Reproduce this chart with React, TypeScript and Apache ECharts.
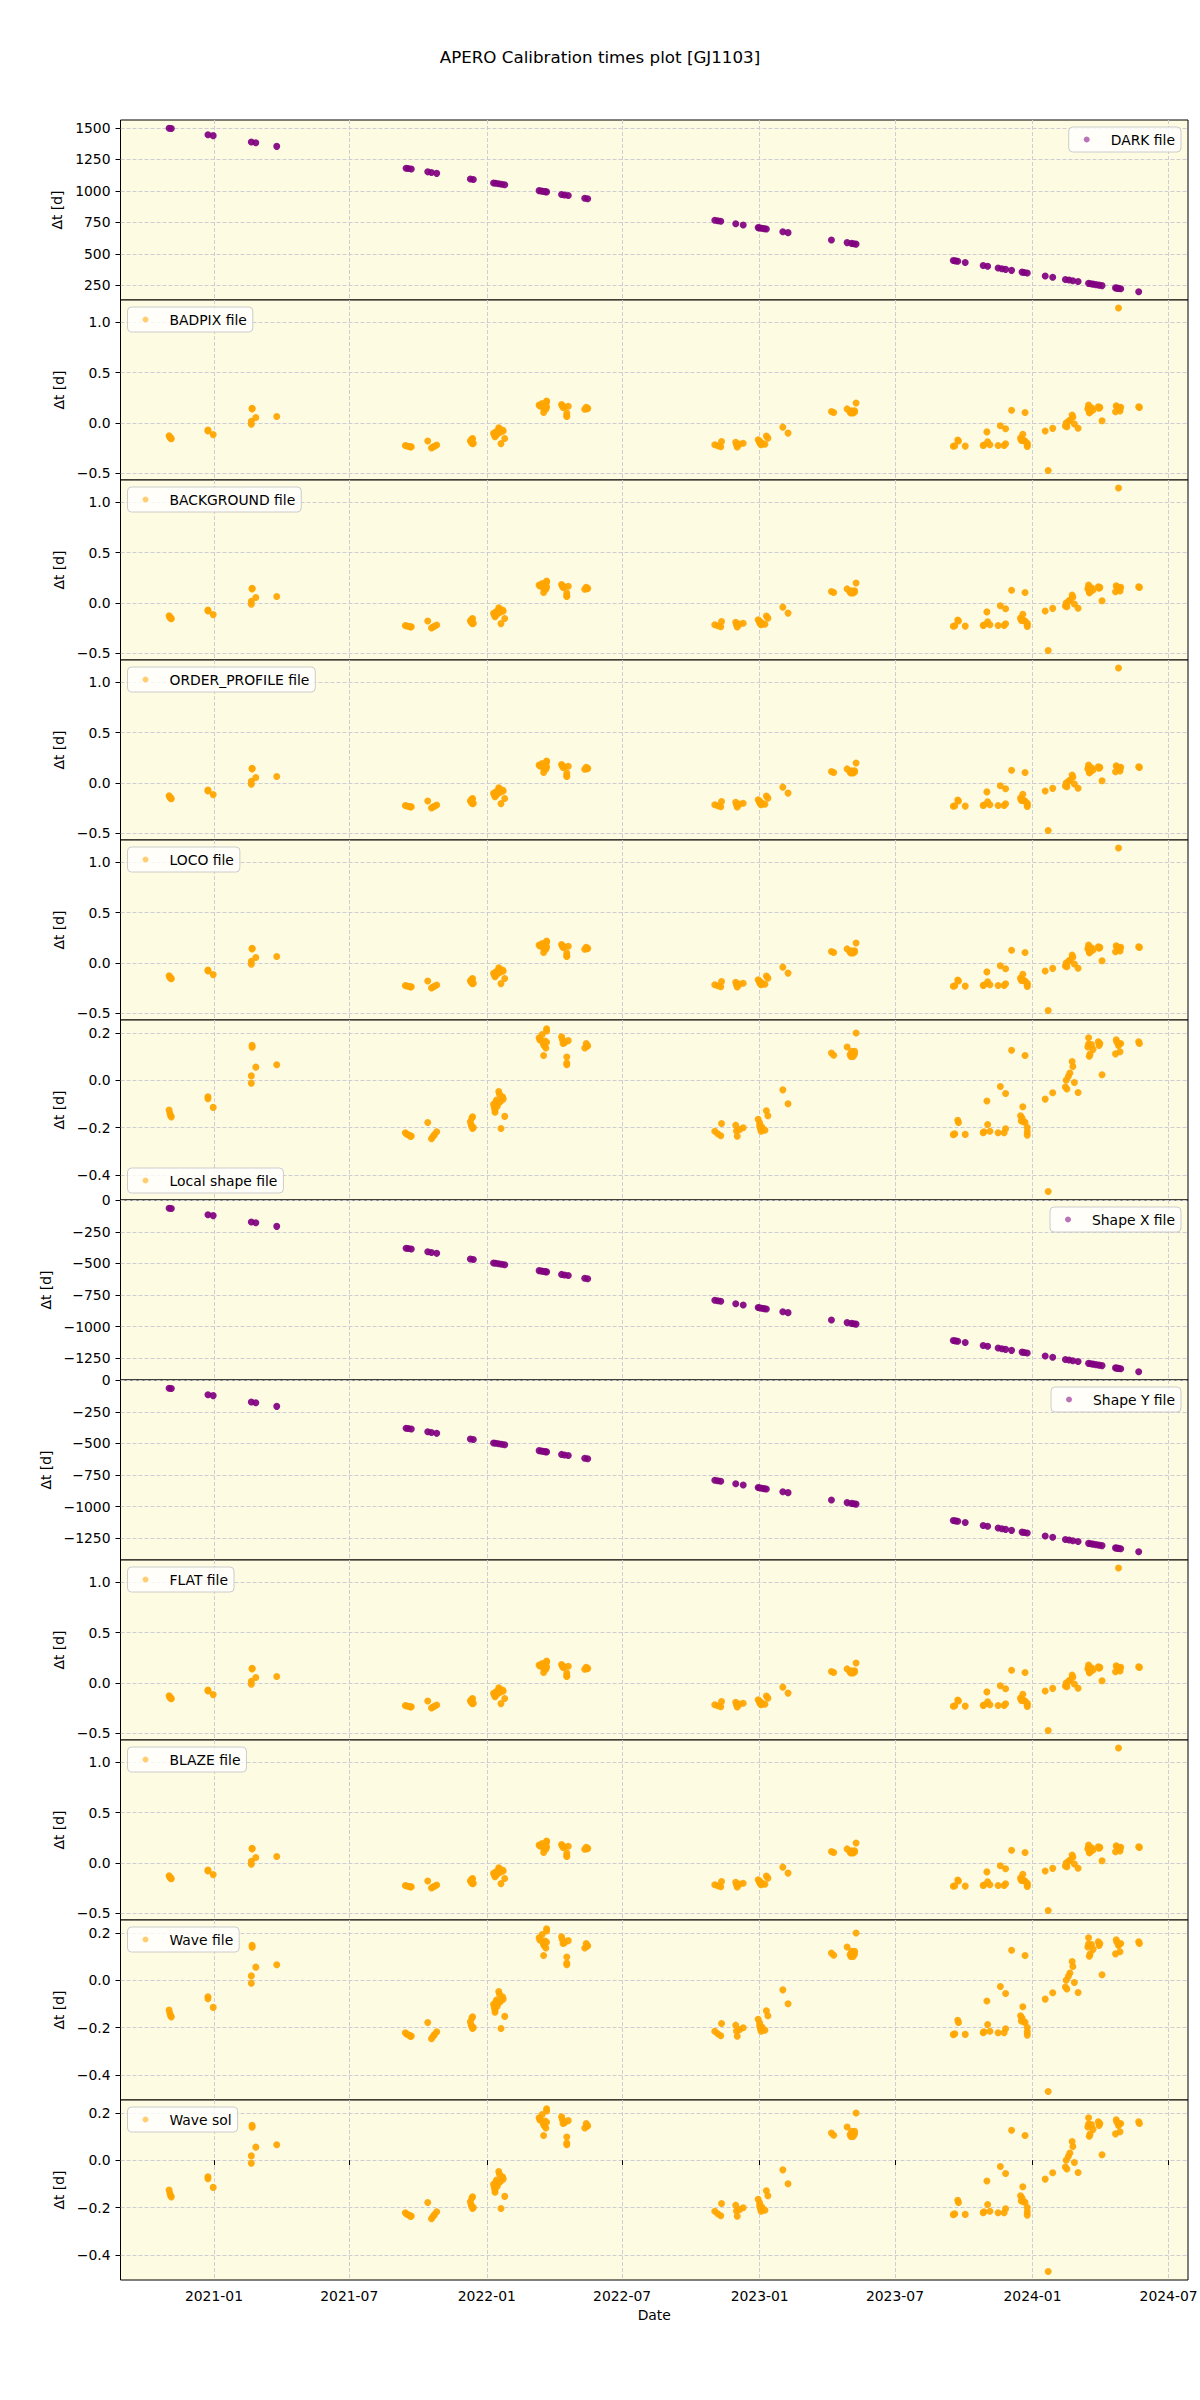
import React, { useEffect, useRef } from 'react';
import * as echarts from 'echarts';

// ---------- data ----------
const darkDates = [
  '2020-11-02', '2020-11-05', '2020-12-24', '2020-12-31', '2021-02-20', '2021-02-26', '2021-03-26',
  '2021-09-15', '2021-09-22', '2021-10-14', '2021-10-19', '2021-10-26', '2021-12-10', '2021-12-14',
  '2022-01-10', '2022-01-17', '2022-01-25', '2022-03-12', '2022-03-17', '2022-03-22', '2022-04-11',
  '2022-04-20', '2022-05-12', '2022-05-16', '2022-11-02', '2022-11-10', '2022-11-30', '2022-12-10',
  '2022-12-30', '2023-01-04', '2023-01-10', '2023-02-01', '2023-02-08', '2023-04-07', '2023-04-28',
  '2023-05-04', '2023-05-10', '2023-09-17', '2023-09-23', '2023-10-03', '2023-10-27', '2023-11-02',
  '2023-11-16', '2023-11-26', '2023-12-04', '2023-12-18', '2023-12-25', '2024-01-18', '2024-01-28',
  '2024-02-14', '2024-02-24', '2024-03-02', '2024-03-16', '2024-03-22', '2024-03-30', '2024-04-03',
  '2024-04-21', '2024-04-25', '2024-04-28', '2024-05-22',
  '2021-09-18', '2022-01-13', '2022-01-21', '2022-03-15', '2022-03-20', '2022-04-15', '2022-11-06',
  '2023-01-01', '2023-01-07', '2023-05-07', '2023-09-20', '2023-11-21', '2023-12-21', '2024-02-19',
  '2024-03-19', '2024-03-26', '2024-04-23',
];
const darkValues = [
  1497, 1494, 1445, 1438, 1387, 1381, 1353, 1180, 1173, 1151, 1146, 1139, 1094, 1090, 1063, 1056, 1048,
  1002, 997, 992, 972, 963, 941, 937, 767, 759, 739, 729, 709, 704, 698, 676, 669, 611, 590, 584, 578,
  448, 442, 432, 408, 402, 388, 378, 370, 356, 349, 325, 315, 298, 288, 281, 267, 261, 253, 249, 231,
  227, 224, 200,
  1177, 1060, 1052, 999, 994, 968, 763,
  707, 701, 581, 445, 383, 353, 293,
  264, 257, 229,
];
const shapeValues = [
  -62, -65, -114, -121, -172, -178, -206, -379, -386, -408, -413, -420, -465, -469, -496, -503, -511,
  -557, -562, -567, -587, -596, -618, -622, -792, -800, -820, -830, -850, -855, -861, -883, -890, -948,
  -969, -975, -981, -1111, -1117, -1127, -1151, -1157, -1171, -1181, -1189, -1203, -1210, -1234, -1244,
  -1261, -1271, -1278, -1292, -1298, -1306, -1310, -1328, -1332, -1335, -1359,
  -382, -499, -507, -560, -565, -591, -796,
  -852, -858, -978, -1114, -1176, -1206, -1266,
  -1295, -1302, -1330,
];

const calibDates = [
  '2020-11-02', '2020-11-03', '2020-11-04', '2020-11-05', '2020-12-24', '2020-12-24', '2020-12-31',
  '2021-02-21', '2021-02-21', '2021-02-20', '2021-02-20', '2021-02-26', '2021-03-26',
  '2021-09-14', '2021-09-16', '2021-09-19', '2021-09-21', '2021-09-22',
  '2021-10-14', '2021-10-19', '2021-10-21', '2021-10-23', '2021-10-26',
  '2021-12-10', '2021-12-11', '2021-12-12', '2021-12-13', '2021-12-12', '2021-12-13', '2021-12-14',
  '2022-01-10', '2022-01-11', '2022-01-12', '2022-01-12', '2022-01-13', '2022-01-14', '2022-01-15',
  '2022-01-16', '2022-01-17', '2022-01-18', '2022-01-19', '2022-01-20', '2022-01-22', '2022-01-23',
  '2022-01-25',
  '2022-03-12', '2022-03-13', '2022-03-16', '2022-03-17', '2022-03-18', '2022-03-18', '2022-03-19',
  '2022-03-20', '2022-03-21', '2022-03-22', '2022-03-22', '2022-03-22',
  '2022-04-11', '2022-04-12', '2022-04-13', '2022-04-15', '2022-04-18', '2022-04-18', '2022-04-18',
  '2022-04-20',
  '2022-05-12', '2022-05-14', '2022-05-15', '2022-05-16',
  '2022-11-02', '2022-11-06', '2022-11-10', '2022-11-11',
  '2022-11-30', '2022-12-02', '2022-12-01', '2022-12-05', '2022-12-10',
  '2022-12-30', '2023-01-01', '2023-01-01', '2023-01-02', '2023-01-03', '2023-01-04', '2023-01-08',
  '2023-01-10', '2023-01-12', '2023-02-01', '2023-02-08',
  '2023-04-07', '2023-04-10',
  '2023-04-28', '2023-05-02', '2023-05-03', '2023-05-04', '2023-05-06', '2023-05-08', '2023-05-08',
  '2023-05-10',
  '2023-09-17', '2023-09-19', '2023-09-23', '2023-09-24', '2023-10-03',
  '2023-10-27', '2023-10-28', '2023-11-01', '2023-11-02', '2023-11-05', '2023-11-16', '2023-11-19',
  '2023-11-24', '2023-11-26', '2023-11-26',
  '2023-12-04', '2023-12-16', '2023-12-17', '2023-12-18', '2023-12-19', '2023-12-20', '2023-12-22',
  '2023-12-22', '2023-12-25', '2023-12-25', '2023-12-25',
  '2024-01-18', '2024-01-22', '2024-01-28',
  '2024-02-14', '2024-02-15', '2024-02-16', '2024-02-18', '2024-02-20', '2024-02-23', '2024-02-24',
  '2024-02-26', '2024-03-02',
  '2024-03-15', '2024-03-16', '2024-03-16', '2024-03-17', '2024-03-18', '2024-03-20', '2024-03-22',
  '2024-03-29', '2024-03-30', '2024-03-31', '2024-04-03',
  '2024-04-21', '2024-04-22', '2024-04-23', '2024-04-25', '2024-04-26', '2024-04-27', '2024-04-28',
  '2024-05-22', '2024-05-23',
];
const calibValues = [
  -0.126, -0.14, -0.15, -0.155, -0.07, -0.078, -0.115,
  0.147, 0.139, 0.018, -0.013, 0.055, 0.065,
  -0.222, -0.228, -0.232, -0.238, -0.236,
  -0.179, -0.247, -0.238, -0.23, -0.218,
  -0.176, -0.188, -0.16, -0.155, -0.197, -0.204, -0.2,
  -0.102, -0.115, -0.126, -0.135, -0.092, -0.084, -0.11,
  -0.097, -0.048, -0.06, -0.091, -0.204, -0.07, -0.08,
  -0.153,
  0.179, 0.17, 0.193, 0.16, 0.15, 0.104, 0.145,
  0.165, 0.136, 0.217, 0.208, 0.16,
  0.183, 0.172, 0.155, 0.158, 0.098, 0.065, 0.072,
  0.167,
  0.136, 0.155, 0.143, 0.145,
  -0.216, -0.226, -0.235, -0.183,
  -0.19, -0.237, -0.215, -0.209, -0.201,
  -0.165, -0.194, -0.18, -0.205, -0.216, -0.198, -0.211,
  -0.129, -0.15, -0.041, -0.1,
  0.115, 0.105,
  0.14, 0.108, 0.1, 0.122, 0.1, 0.122, 0.11,
  0.199,
  -0.23, -0.226, -0.169, -0.179, -0.229,
  -0.222, -0.218, -0.088, -0.187, -0.216, -0.222, -0.027,
  -0.222, -0.056, -0.205,
  0.126, -0.15, -0.172, -0.16, -0.112, -0.175, 0.104,
  -0.178, -0.2, -0.232, -0.218,
  -0.08, -0.47, -0.053,
  -0.029, 0.0, -0.037, 0.016, 0.03, 0.079, 0.058,
  -0.01, -0.052,
  0.14, 0.179, 0.153, 0.101, 0.11, 0.15, 0.13,
  0.162, 0.146, 0.155, 0.023,
  0.111, 0.17, 0.16, 0.146, 0.153, 0.12, 0.155,
  0.162, 0.155,
];
const outlierDates = ['2024-04-25'];
const outlierValues = [1.14];

const xRange = ['2020-08-29', '2024-07-27'];
const xTicks = ['2021-01-01', '2021-07-01', '2022-01-01', '2022-07-01', '2023-01-01', '2023-07-01', '2024-01-01', '2024-07-01'];

const darkTicks = [250, 500, 750, 1000, 1250, 1500];
const wideTicks = [-0.5, 0.0, 0.5, 1.0];
const narrowTicks = [-0.4, -0.2, 0.0, 0.2];
const shapeTicks = [-1250, -1000, -750, -500, -250, 0];

const darkRange = [135, 1562];
const wideRange = [-0.565, 1.22];
const narrowRange = [-0.506, 0.254];
const shapeRange = [-1424, 2.85];

const panelNames = [
  'DARK file', 'BADPIX file', 'BACKGROUND file', 'ORDER_PROFILE file', 'LOCO file', 'Local shape file',
  'Shape X file', 'Shape Y file', 'FLAT file', 'BLAZE file', 'Wave file', 'Wave sol',
];
const panelKinds = ['dark', 'wide', 'wide', 'wide', 'wide', 'narrow', 'shape', 'shape', 'wide', 'wide', 'narrow', 'narrow'];
const legendPlaces = ['ur', 'ul', 'ul', 'ul', 'ul', 'll', 'ur', 'ur', 'ul', 'ul', 'ul', 'ul'];

// ---------- helpers ----------
const toTs = (s: string) => {
  const [y, m, d] = s.split('-').map(Number);
  return Date.UTC(y, m - 1, d);
};
const pair = (dates: string[], vals: number[]) => dates.map((d, i) => [toTs(d), vals[i]]);
const minus = (s: string) => s.replace('-', '\u2212');

const FONT = 'DejaVu Sans';
const FS = 13.9;
const LEFT = 120.5;
const RIGHT = 12;
const TOP = 120;
const H = 180;
const ORANGE = '#FFA500';
const PURPLE = '#800080';
const BG = '#fdfbe1';
const GRIDLINE = { color: '#cdcdd3', type: [4, 2] as any, width: 1 };

function buildOption() {
  const grids: any[] = [];
  const xAxes: any[] = [];
  const yAxes: any[] = [];
  const series: any[] = [];
  const legends: any[] = [];
  const xTickTs = xTicks.map(toTs);
  const n = panelNames.length;

  panelNames.forEach((name, i) => {
    const kind = panelKinds[i];
    const top = TOP + i * H;
    grids.push({
      left: LEFT, right: RIGHT, top, height: H, show: true,
      backgroundColor: BG, borderColor: '#000', borderWidth: 1,
      containLabel: false, outerBoundsMode: 'none',
    });
    const last = i === n - 1;
    xAxes.push({
      type: 'value', gridIndex: i, min: toTs(xRange[0]), max: toTs(xRange[1]), scale: true,
      axisLine: { show: false },
      axisTick: { show: last, customValues: xTickTs, length: 5, lineStyle: { color: '#000', width: 1 } },
      axisLabel: {
        show: last, customValues: xTickTs, margin: 9, fontFamily: FONT, fontSize: FS, color: '#000',
        formatter: (v: number) => {
          const d = new Date(v);
          return d.getUTCFullYear() + '-' + String(d.getUTCMonth() + 1).padStart(2, '0');
        },
      },
      splitLine: { show: true, lineStyle: GRIDLINE },
      name: last ? 'Date' : '', nameLocation: 'middle', nameGap: 28,
      nameTextStyle: { fontFamily: FONT, fontSize: FS, color: '#000' },
    });
    let ticks = wideTicks, range = wideRange, fmt = (v: number) => minus(v.toFixed(1));
    if (kind === 'dark') { ticks = darkTicks; range = darkRange; fmt = (v: number) => String(v); }
    if (kind === 'narrow') { ticks = narrowTicks; range = narrowRange; }
    if (kind === 'shape') { ticks = shapeTicks; range = shapeRange; fmt = (v: number) => minus(String(v)); }
    yAxes.push({
      type: 'value', gridIndex: i, min: range[0], max: range[1],
      axisLine: { show: false },
      axisTick: { show: true, customValues: ticks, length: 5, lineStyle: { color: '#000', width: 1 } },
      axisLabel: { customValues: ticks, formatter: fmt, margin: 10, fontFamily: FONT, fontSize: FS, color: '#000' },
      splitLine: { show: true, lineStyle: GRIDLINE },
      name: '\u0394t [d]', nameLocation: 'middle', nameGap: 46,
      nameTextStyle: { fontFamily: FONT, fontSize: FS, color: '#000' },
    });
    let data: any[];
    let color = ORANGE;
    if (kind === 'dark') { data = pair(darkDates, darkValues); color = PURPLE; }
    else if (kind === 'shape') { data = pair(darkDates, shapeValues); color = PURPLE; }
    else if (kind === 'wide') { data = pair(calibDates, calibValues).concat(pair(outlierDates, outlierValues)); }
    else { data = pair(calibDates, calibValues); }
    series.push({
      type: 'scatter', name, xAxisIndex: i, yAxisIndex: i, data,
      symbol: 'circle', symbolSize: 7,
      itemStyle: { color, opacity: 0.92 },
      emphasis: { disabled: true },
    });
    const place = legendPlaces[i];
    const lg: any = {
      show: true, data: [{ name, icon: 'circle', itemStyle: { color, opacity: 0.55 } }],
      orient: 'horizontal', itemWidth: 38, itemHeight: 6, padding: [5, 6, 5, 15],
      backgroundColor: 'rgba(255,255,255,0.8)', borderColor: '#cccccc', borderWidth: 1, borderRadius: 4,
      textStyle: { fontFamily: FONT, fontSize: FS, color: '#000', lineHeight: 15 },
      selectedMode: false,
    };
    if (place === 'ur') { lg.right = 19; lg.top = top + 7; }
    else if (place === 'ul') { lg.left = 127.5; lg.top = top + 7; }
    else { lg.left = 127.5; lg.top = top + H - 7 - 25; }
    legends.push(lg);
  });

  return {
    animation: false,
    backgroundColor: '#ffffff',
    title: {
      text: 'APERO Calibration times plot [GJ1103]', left: 'center', top: 43,
      textStyle: { fontFamily: FONT, fontSize: 16.7, fontWeight: 'normal', color: '#000' },
    },
    grid: grids, xAxis: xAxes, yAxis: yAxes, series, legend: legends,
  };
}

export default function App() {
  const ref = useRef<HTMLDivElement>(null);
  useEffect(() => {
    document.body.style.margin = '0';
    if (!ref.current) return;
    const chart = echarts.init(ref.current, null, { renderer: 'svg' });
    chart.setOption(buildOption() as any);
    return () => chart.dispose();
  }, []);
  return <div ref={ref} style={{ width: 1200, height: 2400 }} />;
}
